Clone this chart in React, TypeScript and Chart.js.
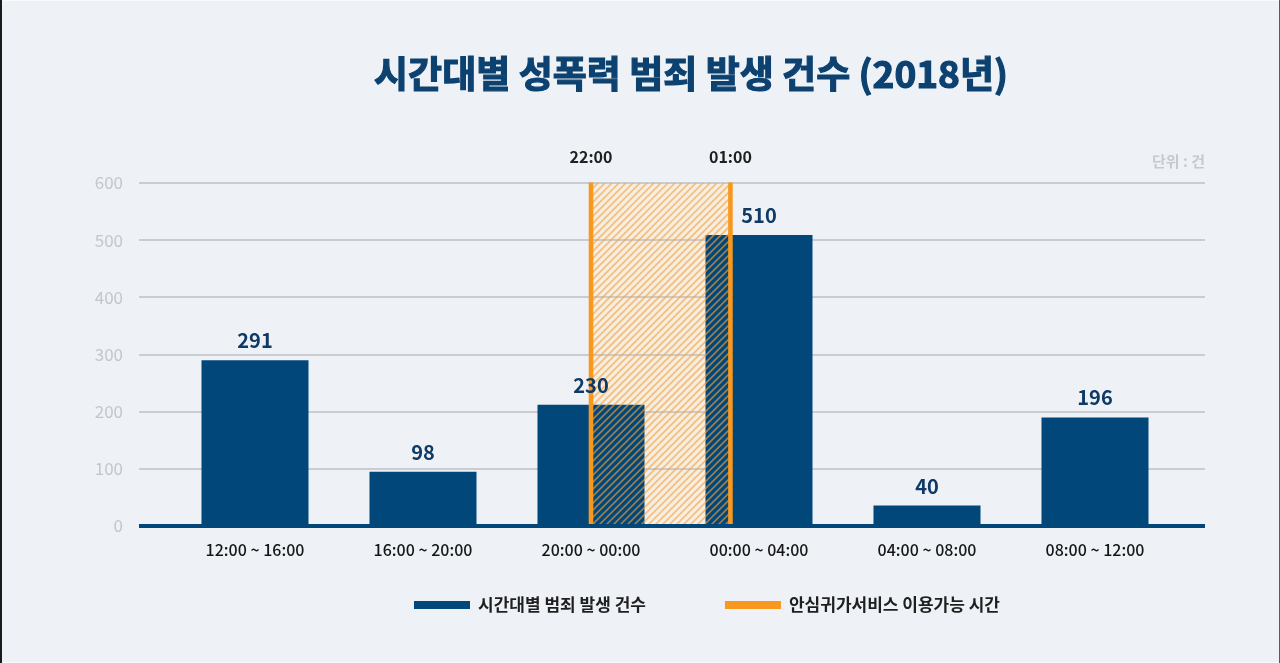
import React, { useEffect, useRef } from 'react';
import { Chart, registerables } from 'chart.js';

Chart.register(...registerables);

// ---- data ----
const categories = ['12:00 ~ 16:00', '16:00 ~ 20:00', '20:00 ~ 00:00', '00:00 ~ 04:00', '04:00 ~ 08:00', '08:00 ~ 12:00'];
const barValues = [290, 95, 212, 509, 36, 190];
const valueLabels = ['291', '98', '230', '510', '40', '196'];
const yTicks = [0, 100, 200, 300, 400, 500, 600];
const serviceMarkerLabels = ['22:00', '01:00'];
const serviceMarkerPositions = [2.0, 2.83];
const legendLabels = ['시간대별 범죄 발생 건수', '안심귀가서비스 이용가능 시간'];
const titleText = '시간대별 성폭력 범죄 발생 건수 (2018년)';
const unitText = '단위 : 건';

// ---- style ----
const FONT = '"Noto Sans CJK KR", "Noto Sans", sans-serif';
const NAVY = '#01477a';
const ORANGE = '#f8981e';
const BG = '#eef2f6';

const decorPlugin = {
  id: 'decor',
  beforeDraw(chart: any) {
    const { ctx, width, height } = chart;
    ctx.save();
    ctx.fillStyle = BG;
    ctx.fillRect(0, 0, width, height);
    ctx.fillStyle = '#1b1b1b';
    ctx.fillRect(0, 0, 2, height);
    ctx.fillStyle = '#5a5a5a';
    ctx.fillRect(width - 1, 0, 1, height);
    ctx.fillStyle = '#f8fafc';
    ctx.fillRect(2, 0, width - 3, 1);
    ctx.fillRect(2, height - 1, width - 3, 1);
    ctx.restore();
  },
  beforeDatasetsDraw(chart: any) {
    const { ctx, chartArea } = chart;
    const x = chart.scales.x;
    const y = chart.scales.y;
    const gl = chartArea.left - 32;
    const gr = chartArea.right + 26;
    const top = y.getPixelForValue(yTicks[yTicks.length - 1]);
    const bottom = y.getPixelForValue(0);
    const mx = serviceMarkerPositions.map((p) => x.getPixelForValue(p));
    // cream backdrop of service window
    ctx.save();
    ctx.fillStyle = '#f6eee2';
    ctx.fillRect(mx[0], top, mx[1] - mx[0], bottom - top);
    ctx.restore();
    // grid lines
    ctx.save();
    ctx.strokeStyle = '#c9cdd1';
    ctx.lineWidth = 2;
    yTicks.forEach((v) => {
      if (v === 0) return;
      const py = Math.round(y.getPixelForValue(v));
      ctx.beginPath();
      ctx.moveTo(gl, py);
      ctx.lineTo(gr, py);
      ctx.stroke();
    });
    ctx.restore();
  },
  afterDatasetsDraw(chart: any) {
    const { ctx, chartArea } = chart;
    const x = chart.scales.x;
    const y = chart.scales.y;
    const gl = chartArea.left - 32;
    const gr = chartArea.right + 26;
    const top = y.getPixelForValue(yTicks[yTicks.length - 1]);
    const bottom = y.getPixelForValue(0);
    const mx = serviceMarkerPositions.map((p) => x.getPixelForValue(p));

    // hatched service window
    ctx.save();
    ctx.beginPath();
    ctx.rect(mx[0], top, mx[1] - mx[0], bottom - top);
    ctx.clip();
    ctx.strokeStyle = 'rgba(244,160,60,0.62)';
    ctx.lineWidth = 1.7;
    const h = bottom - top;
    for (let a = mx[0] - h; a < mx[1] + 7; a += 7) {
      ctx.beginPath();
      ctx.moveTo(a, bottom);
      ctx.lineTo(a + h, top);
      ctx.stroke();
    }
    ctx.restore();

    // orange marker lines
    ctx.save();
    ctx.fillStyle = ORANGE;
    mx.forEach((px) => ctx.fillRect(px - 2.3, top - 0.5, 4.6, bottom - top + 0.5));
    ctx.restore();

    // baseline
    ctx.save();
    ctx.fillStyle = NAVY;
    ctx.fillRect(gl, bottom - 2, gr - gl, 4);
    ctx.restore();

    // value labels
    ctx.save();
    ctx.fillStyle = '#0f3a66';
    ctx.font = `bold 20px ${FONT}`;
    ctx.textAlign = 'center';
    ctx.textBaseline = 'middle';
    chart.getDatasetMeta(0).data.forEach((el: any, i: number) => {
      ctx.fillText(valueLabels[i], el.x, el.y - 19.5);
    });
    ctx.restore();

    // marker labels
    ctx.save();
    ctx.fillStyle = '#1f1f1f';
    ctx.font = `bold 16px ${FONT}`;
    ctx.textAlign = 'center';
    ctx.textBaseline = 'middle';
    serviceMarkerLabels.forEach((t, i) => ctx.fillText(t, mx[i], top - 26));
    ctx.restore();

    // unit
    ctx.save();
    ctx.fillStyle = '#c6c9cd';
    ctx.font = `bold 15px ${FONT}`;
    ctx.textAlign = 'right';
    ctx.textBaseline = 'middle';
    ctx.fillText(unitText, gr, top - 22);
    ctx.restore();

    // title
    ctx.save();
    ctx.fillStyle = '#0c4170';
    ctx.strokeStyle = '#0c4170';
    ctx.lineWidth = 1.2;
    ctx.font = `bold 37px ${FONT}`;
    ctx.textAlign = 'center';
    ctx.textBaseline = 'middle';
    ctx.fillText(titleText, 691, 74);
    ctx.strokeText(titleText, 691, 74);
    ctx.restore();

    // legend
    ctx.save();
    ctx.font = `bold 17px ${FONT}`;
    ctx.textBaseline = 'middle';
    ctx.textAlign = 'left';
    const sw = 56;
    const gapText = 8;
    const gapItem = 79;
    const colors = [NAVY, ORANGE];
    const widths = legendLabels.map((l) => ctx.measureText(l).width);
    const total = widths.reduce((s, w) => s + sw + gapText + w, 0) + gapItem;
    let lx = 707 - total / 2;
    const ly = 605;
    legendLabels.forEach((l, i) => {
      ctx.fillStyle = colors[i];
      ctx.fillRect(lx, ly - 4, sw, 8);
      ctx.fillStyle = '#1f1f1f';
      ctx.fillText(l, lx + sw + gapText, ly);
      lx += sw + gapText + widths[i] + gapItem;
    });
    ctx.restore();
  },
};

export default function App() {
  const ref = useRef<HTMLCanvasElement | null>(null);

  useEffect(() => {
    if (!ref.current) return;
    const chart = new Chart(ref.current, {
      type: 'bar',
      data: {
        labels: categories,
        datasets: [
          {
            label: legendLabels[0],
            data: barValues,
            backgroundColor: NAVY,
            borderWidth: 0,
            categoryPercentage: 1,
            barPercentage: 0.637,
          },
        ],
      },
      options: {
        responsive: false,
        animation: false,
        devicePixelRatio: 1,
        layout: { padding: { top: 183, left: 81, right: 101, bottom: 97 } },
        plugins: {
          legend: { display: false },
          title: { display: false },
          tooltip: { enabled: false },
        },
        scales: {
          x: {
            grid: { display: false, drawTicks: false },
            border: { display: false },
            ticks: {
              color: '#161616',
              padding: 14,
              font: { family: FONT, size: 16, weight: '500' as any },
            },
            afterFit: (s: any) => {
              s.height = 40;
            },
          },
          y: {
            min: 0,
            max: 600,
            grid: { display: false, drawTicks: false },
            border: { display: false },
            ticks: {
              color: '#c3c6ca',
              padding: 48,
              font: { family: FONT, size: 17 },
            },
            afterBuildTicks: (s: any) => {
              s.ticks = yTicks.map((v) => ({ value: v }));
            },
            afterFit: (s: any) => {
              s.width = 90;
            },
          },
        },
      },
      plugins: [decorPlugin],
    });
    return () => chart.destroy();
  }, []);

  return (
    <div style={{ position: 'absolute', left: 0, top: 0, width: 1280, height: 663 }}>
      <canvas ref={ref} width={1280} height={663} style={{ display: 'block' }} />
    </div>
  );
}
